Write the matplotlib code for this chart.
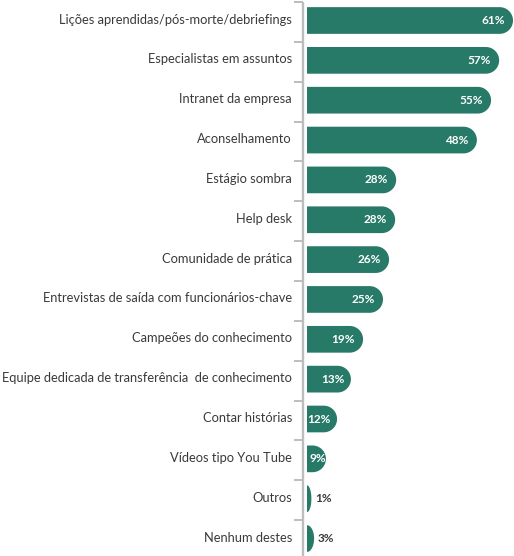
import matplotlib
matplotlib.use("Agg")
import matplotlib.pyplot as plt
from matplotlib.patches import Polygon
import matplotlib.transforms as mtransforms
import numpy as np

categories = [
    "Lições aprendidas/pós-morte/debriefings",
    "Especialistas em assuntos",
    "Intranet da empresa",
    "Aconselhamento",
    "Estágio sombra",
    "Help desk",
    "Comunidade de prática",
    "Entrevistas de saída com funcionários-chave",
    "Campeões do conhecimento",
    "Equipe dedicada de transferência  de conhecimento",
    "Contar histórias",
    "Vídeos tipo You Tube",
    "Outros",
    "Nenhum destes",
]
# printed percentages
values = [61, 57, 55, 48, 28, 28, 26, 25, 19, 13, 12, 9, 1, 3]
# drawn bar lengths as measured in the picture (same % scale, 61 = full width)
bar_lengths = [61.0, 56.9, 54.5, 50.3, 26.4, 26.1, 24.3, 22.5, 16.6, 13.0, 8.9, 5.6, 1.3, 2.1]

BAR_COLOR = "#277a68"
TEXT_COLOR = "#3a3a3a"
AXIS_COLOR = "#bdbdbd"
FONT = "Lato"

W, H = 514, 556
fig = plt.figure(figsize=(W / 100, H / 100), dpi=100)
axis_px = 303
ax = fig.add_axes([axis_px / W, 0, 1 - axis_px / W, 1])
px_per_x = 206 / 61.0
x0_px = 307
ax.set_xlim(-(x0_px - axis_px) / px_per_x, (W - x0_px) / px_per_x)
row_px = 39.85
first_px = 20.5
ax.set_ylim((H - first_px) / row_px, -first_px / row_px)
ax.axis("off")

bar_h = 26.7 / row_px
rx = (26.7 / 2) / px_per_x

for i, (v, L) in enumerate(zip(values, bar_lengths)):
    cap = min(rx, L)
    straight = L - cap
    t = np.linspace(-np.pi / 2, np.pi / 2, 60)
    ex = straight + cap * np.cos(t)
    ey = i + (bar_h / 2) * np.sin(t)
    verts = [(0, i - bar_h / 2)] + list(zip(ex, ey)) + [(0, i + bar_h / 2)]
    ax.add_patch(Polygon(verts, closed=True, facecolor=BAR_COLOR, edgecolor="none"))
    len_px = L * px_per_x
    if len_px > 15:
        pad = 8 if len_px > 50 else (6 if len_px > 25 else 0)
        ax.annotate(f"{v}%", (L, i), xytext=(-pad, 0), textcoords="offset pixels",
                    ha="right", va="center", color="white", fontsize=8.5,
                    fontweight="bold", family=FONT)
    else:
        ax.annotate(f"{v}%", (L, i), xytext=(4, 0), textcoords="offset pixels",
                    ha="left", va="center", color=TEXT_COLOR, fontsize=8.5,
                    fontweight="bold", family=FONT)

# axis line with ticks at category boundaries
trans = mtransforms.blended_transform_factory(ax.transAxes, ax.transData)
n = len(categories)
shift = 1.5 / row_px
ax.plot([0, 0], [-0.5 + shift, n + 0.5], transform=trans, color=AXIS_COLOR, lw=1.7,
        clip_on=False, solid_capstyle="butt")
tick_off = 9 / (W - axis_px)
for b in np.arange(-0.5, n, 1.0):
    ax.plot([-tick_off, 0], [b + shift, b + shift], transform=trans, color=AXIS_COLOR,
            lw=1.4, clip_on=False, solid_capstyle="butt")

for i, c in enumerate(categories):
    ax.annotate(c, (0, i), xycoords=trans, xytext=(-11, 1), textcoords="offset pixels",
                ha="right", va="center", color=TEXT_COLOR, fontsize=9.3, family=FONT)

fig.savefig("out.png", dpi=100)
